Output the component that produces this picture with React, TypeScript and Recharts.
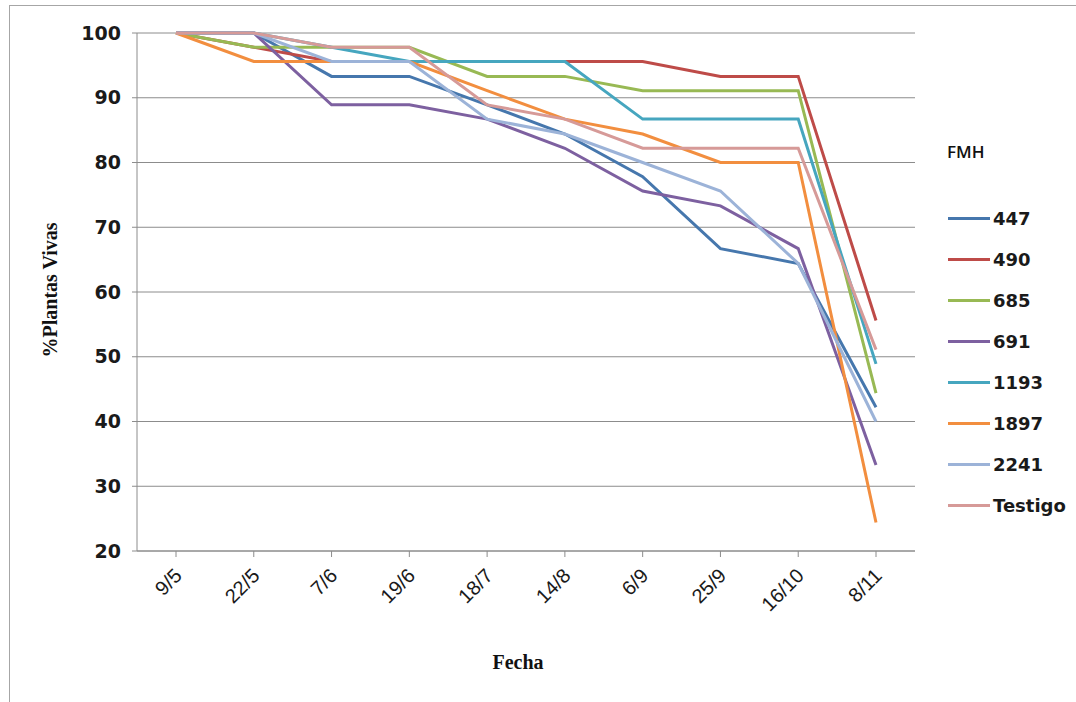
import { CartesianGrid, Label, Legend, Line, LineChart, XAxis, YAxis } from 'recharts'

const fechas = ['9/5', '22/5', '7/6', '19/6', '18/7', '14/8', '6/9', '25/9', '16/10', '8/11']

const s447 = [100, 100, 93.3, 93.3, 88.9, 84.4, 77.8, 66.7, 64.4, 42.2]
const s490 = [100, 97.8, 95.6, 95.6, 95.6, 95.6, 95.6, 93.3, 93.3, 55.6]
const s685 = [100, 97.8, 97.8, 97.8, 93.3, 93.3, 91.1, 91.1, 91.1, 44.4]
const s691 = [100, 100, 88.9, 88.9, 86.7, 82.2, 75.6, 73.3, 66.7, 33.3]
const s1193 = [100, 100, 97.8, 95.6, 95.6, 95.6, 86.7, 86.7, 86.7, 48.9]
const s1897 = [100, 95.6, 95.6, 95.6, 91.1, 86.7, 84.4, 80, 80, 24.4]
const s2241 = [100, 100, 95.6, 95.6, 86.7, 84.4, 80, 75.6, 64.4, 40]
const testigo = [100, 100, 97.8, 97.8, 88.9, 86.7, 82.2, 82.2, 82.2, 51.1]

const yTicks = [20, 30, 40, 50, 60, 70, 80, 90, 100]

const SERIES: { key: string; values: number[]; color: string }[] = [
  { key: '447', values: s447, color: '#4677ad' },
  { key: '490', values: s490, color: '#be4b48' },
  { key: '685', values: s685, color: '#98b954' },
  { key: '691', values: s691, color: '#7d60a0' },
  { key: '1193', values: s1193, color: '#46a6bf' },
  { key: '1897', values: s1897, color: '#f28e3f' },
  { key: '2241', values: s2241, color: '#9cb3d8' },
  { key: 'Testigo', values: testigo, color: '#d69a98' },
]

const data = fechas.map((f, i) => {
  const row: Record<string, string | number> = { fecha: f }
  SERIES.forEach(s => { row[s.key] = s.values[i] })
  return row
})

const AXIS = '#8c8c8c'
const LEGEND_W = 136

function XTick({ x, y, payload }: any) {
  return (
    <g transform={`translate(${x},${y})`}>
      <text x={7} y={18} transform="rotate(-45 7 18)" textAnchor="end"
        fontFamily="'Liberation Sans', Arial, sans-serif" fontSize={20} fill="#1a1a1a">
        {payload.value}
      </text>
    </g>
  )
}

function LegendBox() {
  return (
    <div style={{ fontFamily: "'DejaVu Sans', sans-serif" }}>
      <div style={{ fontFamily: "'Open Sans', sans-serif", fontWeight: 600, fontSize: 17, color: '#111', height: 57, marginLeft: 7, lineHeight: '22px' }}>
        FMH
      </div>
      {SERIES.map(s => (
        <div key={s.key} style={{ display: 'flex', alignItems: 'center', height: 41 }}>
          <span style={{ display: 'inline-block', width: 42, height: 3, background: s.color, marginLeft: 8, marginRight: 3 }} />
          <span style={{ fontWeight: 700, fontSize: 18, color: '#1a1a1a' }}>{s.key}</span>
        </div>
      ))}
    </div>
  )
}

export default function App() {
  return (
    <div style={{ position: 'fixed', left: 0, top: 0, width: 1076, height: 702, overflow: 'hidden', background: '#fff' }}>
      <div style={{ position: 'absolute', left: 9, top: 5, width: 1200, height: 900, borderLeft: '1px solid #a6a6a6', borderTop: '1px solid #a6a6a6' }} />
      <LineChart width={1076} height={702} data={data}
        margin={{ top: 33, right: 161 - LEGEND_W, left: 20, bottom: 10 }}>
        <CartesianGrid vertical={false} stroke={AXIS} strokeWidth={1} />
        <XAxis dataKey="fecha" padding={{ left: 39, right: 39 }} height={141}
          stroke={AXIS} tickSize={6} tick={<XTick />} interval={0}>
          <Label content={({ viewBox }: any) => (
            <text x={viewBox.x + viewBox.width / 2 - 8} y={viewBox.y + 118} textAnchor="middle"
              fontFamily="'Liberation Serif', serif" fontWeight="bold" fontSize={20} fill="#111">
              Fecha
            </text>
          )} />
        </XAxis>
        <YAxis domain={[20, 100]} ticks={yTicks} width={117} stroke={AXIS} tickSize={5} tickMargin={11}
          tick={{ fontFamily: "'DejaVu Sans', sans-serif", fontWeight: 700, fontSize: 19, fill: '#1a1a1a' }}
          interval={0}>
          <Label content={({ viewBox }: any) => {
            const cx = viewBox.x + 30
            const cy = viewBox.y + viewBox.height / 2 - 2
            return (
              <text x={cx} y={cy} transform={`rotate(-90 ${cx} ${cy})`} textAnchor="middle" dominantBaseline="central"
                fontFamily="'Liberation Serif', serif" fontWeight="bold" fontSize={20} fill="#111">
                %Plantas Vivas
              </text>
            )
          }} />
        </YAxis>
        <Legend layout="vertical" align="right" verticalAlign="top" content={<LegendBox />}
          wrapperStyle={{ left: 940, top: 141, width: LEGEND_W }} />
        {SERIES.map(s => (
          <Line key={s.key} type="linear" dataKey={s.key} stroke={s.color} strokeWidth={3}
            dot={false} activeDot={false} isAnimationActive={false} />
        ))}
      </LineChart>
    </div>
  )
}
